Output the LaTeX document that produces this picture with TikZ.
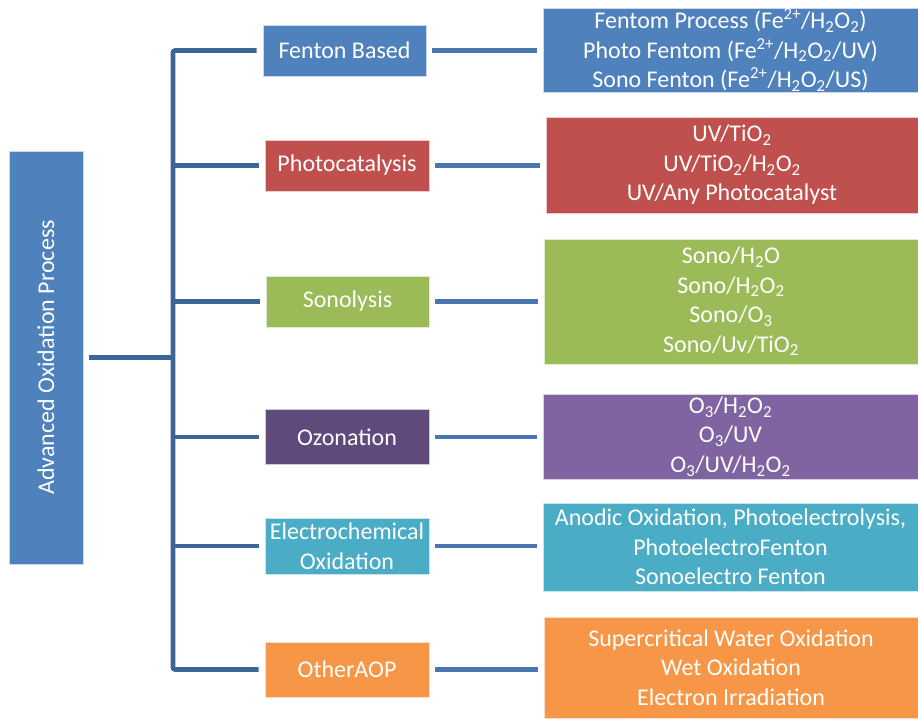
\documentclass[tikz,border=0pt]{standalone}
\usepackage{fontspec}
\setmainfont{Carlito}
\definecolor{cBlue}{HTML}{4F81BD}
\definecolor{cRed}{HTML}{C0504D}
\definecolor{cGreen}{HTML}{9BBB59}
\definecolor{cPurpD}{HTML}{604A7B}
\definecolor{cPurp}{HTML}{8064A2}
\definecolor{cCyan}{HTML}{4BACC6}
\definecolor{cOrange}{HTML}{F79646}
\definecolor{cTrunk}{HTML}{3D6697}
\definecolor{cLink}{HTML}{4A77AF}
\newcommand{\sub}[1]{\textsubscript{#1}}
\newcommand{\supr}[1]{\textsuperscript{#1}}
\begin{document}
\begin{tikzpicture}[x=1pt,y=-1pt,
  bx/.style={inner sep=0pt, text=white, align=center,
    font=\fontsize{24}{29.5}\selectfont, draw=white!70!#1, line width=0.6pt, fill=#1},
  trunk/.style={draw=cTrunk, line width=4.6pt, rounded corners=2pt},
  link/.style={draw=cLink, line width=4.6pt, shorten <=6pt, shorten >=6pt}]
\useasboundingbox (0,0) rectangle (918,718);
% root
\node[bx=cBlue, minimum width=413pt, minimum height=74pt, rotate=90] (root) at (46,357.5) {Advanced Oxidation Process};
% categories
\node[bx=cBlue, minimum width=163pt, minimum height=51pt] (fen) at (344.5,50.5) {Fenton Based};
\node[bx=cRed, minimum width=164pt, minimum height=51pt] (pho) at (347,165.5) {Photocatalysis};
\node[bx=cGreen, minimum width=163pt, minimum height=51pt] (son) at (347.5,301.5) {Sonolysis};
\node[bx=cPurpD, minimum width=164pt, minimum height=55pt] (ozo) at (347,437) {Ozonation};
\node[bx=cCyan, minimum width=164pt, minimum height=56pt] (ele) at (347,546) {Electrochemical\\Oxidation};
\node[bx=cOrange, minimum width=164pt, minimum height=55pt] (oth) at (347,669.5) {OtherAOP};
% details
\node[bx=cBlue, minimum width=375pt, minimum height=84pt] (fenR) at (730.5,50) {Fentom Process (Fe\supr{2+}/H\sub{2}O\sub{2})\\Photo Fentom (Fe\supr{2+}/H\sub{2}O\sub{2}/UV)\\Sono Fenton (Fe\supr{2+}/H\sub{2}O\sub{2}/US)};
\node[bx=cRed, minimum width=372pt, minimum height=96pt] (phoR) at (732,165) {UV/TiO\sub{2}\\UV/TiO\sub{2}/H\sub{2}O\sub{2}\\UV/Any Photocatalyst};
\node[bx=cGreen, minimum width=374pt, minimum height=125pt] (sonR) at (731,301.5) {Sono/H\sub{2}O\\Sono/H\sub{2}O\sub{2}\\Sono/O\sub{3}\\Sono/Uv/TiO\sub{2}};
\node[bx=cPurp, minimum width=375pt, minimum height=85pt] (ozoR) at (730.5,436.5) {O\sub{3}/H\sub{2}O\sub{2}\\O\sub{3}/UV\\O\sub{3}/UV/H\sub{2}O\sub{2}};
\node[bx=cCyan, minimum width=375pt, minimum height=88pt] (eleR) at (730.5,547) {Anodic Oxidation, Photoelectrolysis,\\PhotoelectroFenton\\Sonoelectro Fenton};
\node[bx=cOrange, minimum width=374pt, minimum height=101pt] (othR) at (731,667.5) {Supercritical Water Oxidation\\Wet Oxidation\\Electron Irradiation};
% trunk
\coordinate (tr) at (173,357.5);
\draw[trunk, shorten <=6pt] (root.south) -- (tr);
\draw[trunk, shorten <=6pt, shorten >=6pt] (fen.west) -| (tr) |- (oth.west);
\draw[trunk, shorten >=6pt] (tr |- pho.west) -- (pho.west);
\draw[trunk, shorten >=6pt] (tr |- son.west) -- (son.west);
\draw[trunk, shorten >=6pt] (tr |- ozo.west) -- (ozo.west);
\draw[trunk, shorten >=6pt] (tr |- ele.west) -- (ele.west);
% links
\draw[link] (fen.east) -- (fen.east -| fenR.west);
\draw[link] (pho.east) -- (pho.east -| phoR.west);
\draw[link] (son.east) -- (son.east -| sonR.west);
\draw[link] (ozo.east) -- (ozo.east -| ozoR.west);
\draw[link] (ele.east) -- (ele.east -| eleR.west);
\draw[link] (oth.east) -- (oth.east -| othR.west);
\end{tikzpicture}
\end{document}
